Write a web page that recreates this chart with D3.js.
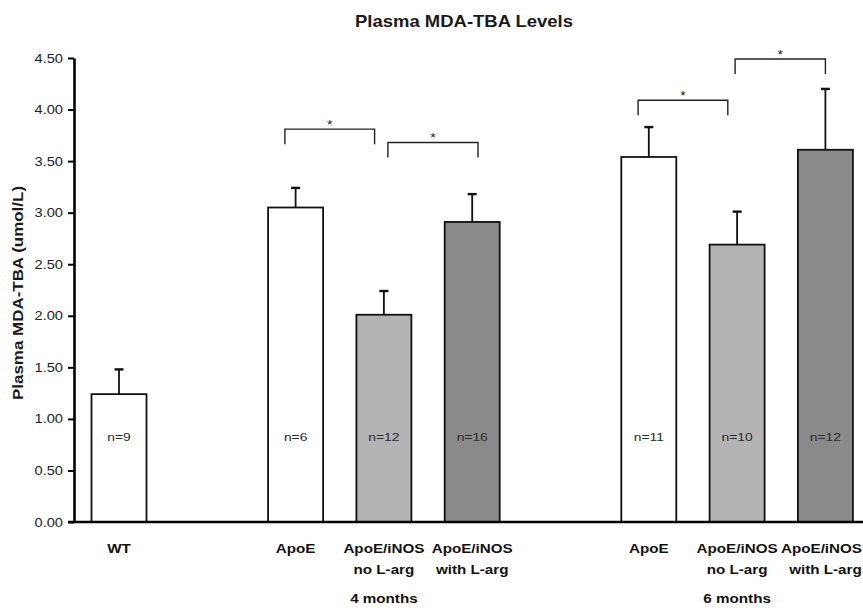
<!DOCTYPE html>
<html>
<head>
<meta charset="utf-8">
<script src="https://cdn.jsdelivr.net/npm/d3@7"></script>
<style>
  html, body { margin: 0; padding: 0; background: #fff; }
  svg { display: block; }
  text { font-family: "Liberation Sans", Arial, Helvetica, sans-serif; }
</style>
</head>
<body>
<svg id="chart" width="863" height="608"></svg>
<script>
// ---------------- data ----------------
const title = "Plasma MDA-TBA Levels";
const yLabel = "Plasma MDA-TBA (umol/L)";
const groupNames = ["", "4 months", "6 months"];
const categories = ["WT", "ApoE", "ApoE/iNOS|no L-arg", "ApoE/iNOS|with L-arg",
                    "ApoE", "ApoE/iNOS|no L-arg", "ApoE/iNOS|with L-arg"];
const categoryGroup = [0, 1, 1, 1, 2, 2, 2];
const treatment = ["control", "control", "noLarg", "withLarg", "control", "noLarg", "withLarg"];
const means = [1.24, 3.05, 2.01, 2.91, 3.54, 2.69, 3.61];
const sems  = [0.24, 0.19, 0.23, 0.27, 0.29, 0.32, 0.59];
const nCounts = [9, 6, 12, 16, 11, 10, 12];
const brackets = [
  { from: 1, to: 2, level: 3.81 },
  { from: 2, to: 3, level: 3.68 },
  { from: 4, to: 5, level: 4.09 },
  { from: 5, to: 6, level: 4.49 }
];
const yTicks = [0, 0.5, 1, 1.5, 2, 2.5, 3, 3.5, 4, 4.5];

// ---------------- layout / style ----------------
const W = 863, H = 608;
const axisX = 74, y0px = 522, yTopPx = 58;
const firstCenter = 119, lastCenter = 825.4;
const barW = 55;
const SX = 1.17; // horizontal glyph stretch of the scanned figure
const fillColor = { control: "#ffffff", noLarg: "#b4b4b4", withLarg: "#8a8a8a" };
const bracketNudge = [[-10.7, -9.3], [4, 5.8], [-10.7, -9.3], [-2, 0]];
const bracketLeg = 15;

const svg = d3.select("#chart");

// slot domain with one empty slot between groups
const slotKeys = [];
categories.forEach((c, i) => {
  if (i > 0 && categoryGroup[i] !== categoryGroup[i - 1]) slotKeys.push("gap" + i);
  slotKeys.push("c" + i);
});
const x = d3.scalePoint().domain(slotKeys).range([firstCenter, lastCenter]).padding(0);
const cx = i => x("c" + i);
const y = d3.scaleLinear().domain([0, 4.5]).range([y0px, yTopPx]);

function stretchedText(g, px, py, str, o) {
  const t = g.append("text")
    .attr("transform", `translate(${px},${py}) ${o.rotate ? "rotate(" + o.rotate + ")" : ""} scale(${SX},1)`)
    .attr("text-anchor", o.anchor || "middle")
    .attr("dominant-baseline", o.baseline || "central")
    .attr("font-size", o.size)
    .attr("font-weight", o.weight || "normal")
    .attr("fill", o.fill || "#1a1a1a")
    .text(str);
  if (o.clampRight) {
    const half = t.node().getComputedTextLength() * SX / 2;
    if (px + half > W - 1) {
      const nx = W - 1 - half;
      t.attr("transform", `translate(${nx},${py}) scale(${SX},1)`);
    }
  }
  return t;
}

// title
stretchedText(svg, 464, 21, title, { size: 15.8, weight: "bold" });

// y label
stretchedText(svg, 18, 293, yLabel, { size: 14.5, weight: "bold", rotate: -90 });

// bars
const data = categories.map((c, i) => ({ i, c, mean: means[i], sem: sems[i], n: nCounts[i], t: treatment[i] }));

svg.append("g").selectAll("rect").data(data).join("rect")
  .attr("x", d => cx(d.i) - barW / 2)
  .attr("y", d => y(d.mean))
  .attr("width", barW)
  .attr("height", d => y(0) - y(d.mean))
  .attr("fill", d => fillColor[d.t])
  .attr("stroke", "#111")
  .attr("stroke-width", 1.8);

// error bars
const eb = svg.append("g").attr("stroke", "#111");
eb.selectAll("line.v").data(data).join("line").attr("class", "v")
  .attr("x1", d => cx(d.i)).attr("x2", d => cx(d.i))
  .attr("y1", d => y(d.mean)).attr("y2", d => y(d.mean + d.sem))
  .attr("stroke-width", 1.8);
eb.selectAll("line.cap").data(data).join("line").attr("class", "cap")
  .attr("x1", d => cx(d.i) - 4.5).attr("x2", d => cx(d.i) + 4.5)
  .attr("y1", d => y(d.mean + d.sem)).attr("y2", d => y(d.mean + d.sem))
  .attr("stroke-width", 2.4);

// n labels
data.forEach(d => {
  stretchedText(svg, cx(d.i), y(0.825), "n=" + d.n, { size: 11.8, fill: "#2a2a2a" });
});

// significance brackets
brackets.forEach((b, k) => {
  const xa = cx(b.from) + bracketNudge[k][0];
  const xb = cx(b.to) + bracketNudge[k][1];
  const yy = y(b.level);
  svg.append("path")
    .attr("d", `M${xa},${yy + bracketLeg}V${yy}H${xb}V${yy + bracketLeg}`)
    .attr("fill", "none").attr("stroke", "#222").attr("stroke-width", 1.4);
  stretchedText(svg, (xa + xb) / 2, yy - 0.5, "*", { size: 12, baseline: "alphabetic", fill: "#222" });
});

// y axis
const yAxis = d3.axisLeft(y).tickValues(yTicks).tickFormat(d3.format(".2f")).tickSize(6).tickSizeOuter(0).tickPadding(5);
const ag = svg.append("g").attr("transform", `translate(${axisX},0)`).call(yAxis);
ag.select(".domain").attr("stroke", "#000").attr("stroke-width", 2.6);
ag.selectAll(".tick line").attr("stroke", "#000").attr("stroke-width", 2);
ag.selectAll(".tick text")
  .attr("font-size", 12.5)
  .attr("font-family", "'Liberation Sans', Arial, sans-serif")
  .attr("fill", "#222")
  .attr("x", -11 / SX)
  .attr("transform", `scale(${SX},1)`);

// x axis baseline
svg.append("line")
  .attr("x1", axisX - 6).attr("x2", W)
  .attr("y1", y(0)).attr("y2", y(0))
  .attr("stroke", "#000").attr("stroke-width", 2.6);

// category labels
data.forEach(d => {
  const lines = d.c.split("|");
  lines.forEach((ln, li) => {
    stretchedText(svg, cx(d.i), 548 + li * 21, ln, { size: 13, weight: "bold", fill: "#111", clampRight: true });
  });
});

// group labels, centred under the middle bar of each group
groupNames.forEach((g, gi) => {
  if (!g) return;
  const idx = categories.map((c, i) => i).filter(i => categoryGroup[i] === gi);
  const mid = idx[Math.floor(idx.length / 2)];
  stretchedText(svg, cx(mid), 598, g, { size: 13, weight: "bold", fill: "#111" });
});
</script>
</body>
</html>
